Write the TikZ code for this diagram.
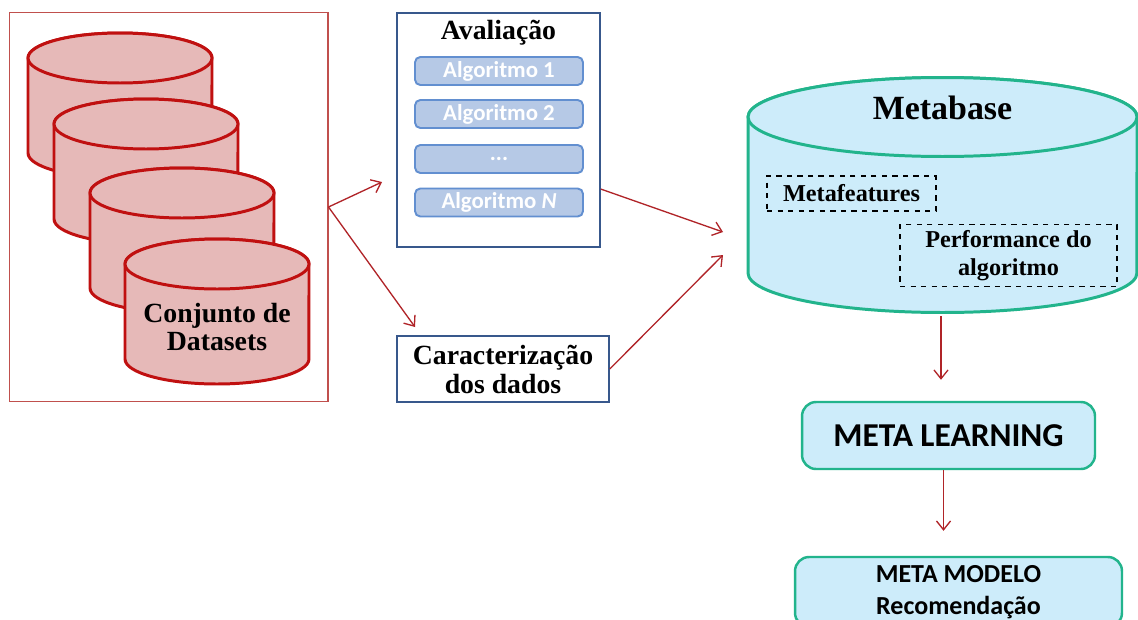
\documentclass[tikz,border=0pt]{standalone}
\usepackage{fontspec}
\setmainfont{Liberation Serif}
\setsansfont{Carlito}
\usetikzlibrary{positioning,arrows.meta}
\definecolor{cylred}{RGB}{192,16,16}
\definecolor{cylfill}{RGB}{230,185,184}
\definecolor{framered}{RGB}{192,80,77}
\definecolor{boxblue}{RGB}{56,88,140}
\definecolor{algfill}{RGB}{182,201,230}
\definecolor{algline}{RGB}{98,143,208}
\definecolor{mbline}{RGB}{34,180,140}
\definecolor{mbfill}{RGB}{205,236,250}
\definecolor{flowred}{RGB}{176,36,40}

\begin{document}
\begin{tikzpicture}[x=0.02cm,y=-0.02cm,
		flow/.style={draw=flowred, line width=0.75pt, -{Straight Barb[length=5pt,width=8pt]}},
		dbcyl/.style={draw=cylred, fill=cylfill, line width=1.7pt},
		mbcyl/.style={draw=mbline, fill=mbfill, line width=1.7pt},
		titletext/.style={font=\bfseries\fontsize{15.8}{16.5}\selectfont, align=center},
		bluebox/.style={draw=boxblue, line width=0.9pt, fill=white},
		algbox/.style={draw=algline, fill=algfill, line width=1.1pt, rounded corners=3pt,
			minimum width=3.36cm, minimum height=0.56cm, inner sep=0pt,
			text=white, font=\sffamily\bfseries\fontsize{13}{14}\selectfont},
		dashbox/.style={draw=black, dashed, line width=0.7pt, align=center,
			font=\bfseries\fontsize{13.8}{16}\selectfont},
		metabox/.style={draw=mbline, fill=mbfill, line width=1.4pt, rounded corners=8pt, align=center}]
			\clip (0,0) rectangle (1138,619);
			\fill[white] (0,0) rectangle (1138,619);
			\pgfmathsetmacro{\CylHalfWidth}{92}
			\pgfmathsetmacro{\CylBody}{95}
			
			\node[draw=framered, line width=0.6pt, minimum width=6.38cm, minimum height=7.8cm] (datasets) at (168.5,207) {};
			\foreach \cx/\cy in {120/58, 146/124, 182/193, 217/264} {
				\filldraw[dbcyl] (\cx-\CylHalfWidth,\cy) -- (\cx-\CylHalfWidth,\cy+\CylBody)
					arc[start angle=180, end angle=360, x radius=1.84cm, y radius=0.5cm]
					-- (\cx+\CylHalfWidth,\cy)
					arc[start angle=0, end angle=180, x radius=1.84cm, y radius=0.5cm] -- cycle;
				\draw[dbcyl] (\cx,\cy) ellipse[x radius=1.84cm, y radius=0.5cm];
			}
			\node[titletext] (conjunto) at (217,327) {Conjunto de\\Datasets};
			
			\node[bluebox, minimum width=4.06cm, minimum height=4.68cm] (avaliacao) at (498.5,130) {};
			\node[titletext] (avaltitle) at (498.5,33) {Avaliação};
			\node[algbox] (alg1) at (499,71) {Algoritmo 1};
			\node[algbox] (alg2) at (499,114) {Algoritmo 2};
			\node[algbox] (alg3) at (499,159) {...};
			\node[algbox] (alg4) at (499,202.5) {Algoritmo \textit{N}};
			
			\node[bluebox, titletext, minimum width=4.24cm, minimum height=1.32cm] (caract) at (503,369) {Caracterização\\dos dados};
			
			\filldraw[mbcyl] (748,117) -- (748,273)
				arc[start angle=180, end angle=360, x radius=3.89cm, y radius=0.79cm]
				-- (1137,117)
				arc[start angle=0, end angle=180, x radius=3.89cm, y radius=0.79cm] -- cycle;
			\draw[mbcyl] (942.5,117) ellipse[x radius=3.89cm, y radius=0.79cm];
			\node[font=\bfseries\fontsize{19.3}{20}\selectfont] (metabase) at (942.5,108) {Metabase};
			\node[dashbox, minimum width=3.38cm, minimum height=0.7cm] (metafeat) at (851.5,193.5) {Metafeatures};
			\node[dashbox, minimum width=4.34cm, minimum height=1.18cm] (perf) at (1008.5,255.5) {Performance do\\algoritmo};
			
			\node[metabox, minimum width=5.86cm, minimum height=1.34cm, font=\sffamily\bfseries\fontsize{19}{20}\selectfont] (metalearning) at (948.5,435.5) {META LEARNING};
			\node[metabox, minimum width=6.54cm, minimum height=1.4cm, font=\sffamily\bfseries\fontsize{14.8}{18.5}\selectfont] (metamodelo) at (958.5,592) {META MODELO\\Recomendação};
			
			\coordinate (avalin) at (382,182);
			\coordinate (caractin) at (415,327);
			\coordinate (metain) at (723,232);
			\coordinate (metain2) at (723,255);
			\coordinate (metabot) at (941,316);
			
			\draw[flow] (datasets.east) -- (avalin);
			\draw[flow] (datasets.east) -- (caractin);
			\draw[flow] (avaliacao.-30) -- (metain);
			\draw[flow] (caract.east) -- (metain2);
			\draw[flow, shorten >=0.42cm] (metabot) -- (metabot |- metalearning.north);
			\draw[flow, shorten >=0.5cm] ([xshift=-0.1cm]metalearning.south) -- ([xshift=-0.1cm]metalearning.south |- metamodelo.north);
		\end{tikzpicture}
\end{document}
